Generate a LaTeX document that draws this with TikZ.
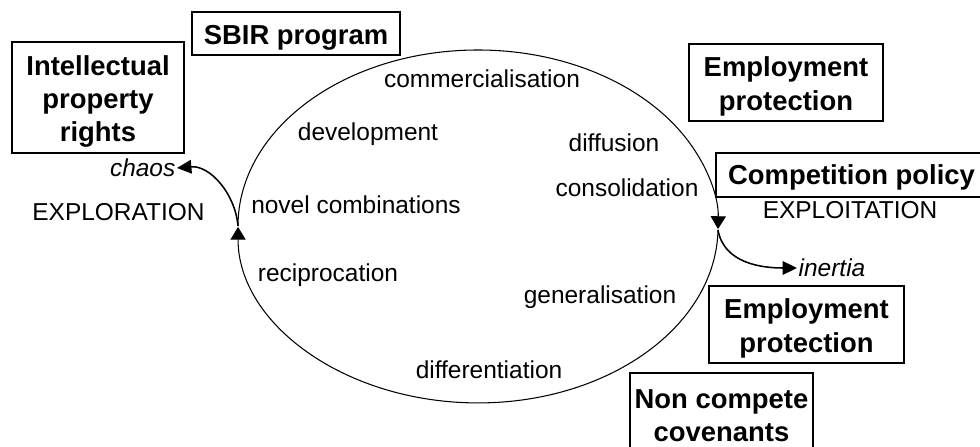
\documentclass[tikz,border=0pt]{standalone}
\usepackage{fontspec}
\setmainfont{Liberation Sans}
\usetikzlibrary{arrows.meta}
\begin{document}
\begin{tikzpicture}[x=0.025cm,y=0.025cm,
    phase/.style={font=\fontsize{17.4}{21}\selectfont,inner sep=1pt},
    policy/.style={draw,line width=0.8pt,inner sep=0pt},
    policytext/.style={font=\fontsize{19.5}{23.6}\selectfont\bfseries,align=center,inner sep=0pt,yshift=-0.1cm},
    cycle/.style={line width=0.75pt,-{Triangle[length=0.32cm,width=0.38cm]}},
    exit/.style={line width=1.1pt,-{Triangle[length=0.36cm,width=0.34cm]}}]
  \clip (0,0) rectangle (980,447);
  \coordinate (west) at (238,221);
  \coordinate (east) at (718,217);
  \draw[cycle] (east) arc[start angle=-1,end angle=-180,x radius=240,y radius=176];
  \draw[cycle] (west) arc[start angle=180,end angle=-1,x radius=240,y radius=176];
  % policy boxes
  \node[policy,minimum width=5.2cm,minimum height=1.075cm,
    label={[policytext]center:SBIR program}] (sbir) at (296,413.5) {};
  \node[policy,minimum width=4.3cm,minimum height=2.775cm,
    label={[policytext]center:{Intellectual\\property\\rights}}] (ipr) at (98,349.5) {};
  \node[policy,minimum width=4.85cm,minimum height=1.925cm,
    label={[policytext]center:{Employment\\protection}}] (empa) at (786,364.5) {};
  \node[policy,minimum width=6.775cm,minimum height=1.1cm,
    label={[policytext,yshift=0.05cm]center:Competition policy}] (comp) at (851.5,272) {};
  \node[policy,minimum width=4.875cm,minimum height=1.925cm,
    label={[policytext]center:{Employment\\protection}}] (empb) at (806.5,122.5) {};
  \node[policy,minimum width=4.575cm,minimum height=1.925cm,
    label={[policytext]center:{Non compete\\covenants}}] (noncomp) at (721.5,35.5) {};
  % phases of the cycle
  \node[phase] (commerc) at (482,368) {commercialisation};
  \node[phase] (devel) at (368,313) {development};
  \node[phase] (diffus) at (614,304) {diffusion};
  \node[phase] (consol) at (627,259) {consolidation};
  \node[phase] (novel) at (356,242) {novel combinations};
  \node[phase] (recip) at (328,172) {reciprocation};
  \node[phase] (general) at (600,150) {generalisation};
  \node[phase] (differ) at (489,77) {differentiation};
  \node[phase] (explor) at (118.5,235) {EXPLORATION};
  \node[phase] (exploit) at (850,237) {EXPLOITATION};
  \node[phase,anchor=east,font=\fontsize{17.4}{21}\selectfont\itshape] (chaos) at (177,279) {chaos};
  \node[phase,anchor=west,font=\fontsize{17.4}{21}\selectfont\itshape] (inertia) at (797,179) {inertia};
  \draw[exit] (west) to[out=95,in=5] (chaos.east);
  \draw[exit] (east) to[out=-80,in=180] (inertia.west);
\end{tikzpicture}
\end{document}
